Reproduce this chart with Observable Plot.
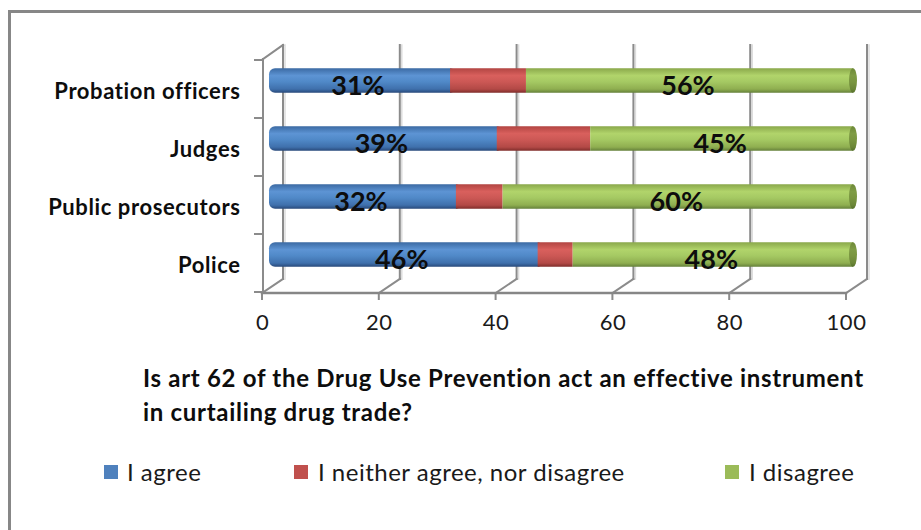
<!DOCTYPE html>
<html>
<head>
<meta charset="utf-8">
<script src="https://cdn.jsdelivr.net/npm/d3@7"></script>
<script src="https://cdn.jsdelivr.net/npm/@observablehq/plot@0.6"></script>
<style>
  html, body { margin: 0; padding: 0; background: #ffffff; }
  body { width: 921px; height: 530px; overflow: hidden; position: relative; font-family: Lato, "Open Sans", sans-serif; }
  #frame { position: absolute; left: 8px; top: 10px; width: 960px; height: 560px;
           border-left: 3px solid #878787; border-top: 3px solid #878787; }
  #chart { position: absolute; left: 0; top: 0; }
  #chart g[aria-label="y-axis tick label"] text { letter-spacing: 0.6px; }
  #chart g[aria-label="x-axis tick label"] text { letter-spacing: 0.5px; }
  #title { position: absolute; left: 143px; top: 361px; font-weight: bold; font-size: 24px;
           letter-spacing: 0.7px; line-height: 34px; color: #0d0d0d; white-space: nowrap; }
  .item { position: absolute; top: 458px; font-size: 24px; letter-spacing: 0.5px; line-height: 28px;
          color: #1a1a1a; white-space: nowrap; }
  .sw { position: absolute; width: 14px; height: 14px; top: 465px; }
</style>
</head>
<body>
<div id="frame"></div>
<div id="chart"></div>
<div id="title"></div>
<div id="legend"></div>
<script>
// Survey answers, percent of respondents per professional group
const groups = ["Probation officers", "Judges", "Public prosecutors", "Police"];
const agree = [31, 39, 32, 46];
const neither = [13, 16, 8, 6];
const disagree = [56, 45, 60, 48];
const responses = ["I agree", "I neither agree, nor disagree", "I disagree"];
const colors = ["#4f81bd", "#c0504d", "#9bbb59"];
const xTicks = [0, 20, 40, 60, 80, 100];
const titleLines = [
  "Is art 62 of the Drug Use Prevention act an effective instrument",
  "in curtailing drug trade?"
];

const rows = groups.map((group, i) => ({
  group,
  agree: agree[i],
  neither: neither[i],
  disagree: disagree[i],
  total: agree[i] + neither[i] + disagree[i]
}));

// offset of the back wall relative to the front plane (pseudo 3-D)
const DEPTH_X = 21, DEPTH_Y = -14;
// offset of the cylinders (half way into the depth)
const BAR_DX = 7, BAR_DY = -8.5;
const barInset = 16.75;

// grid, walls and floor edges of the 3-D plot area
function walls(index, scales, values, dims) {
  const x = scales.x, y = scales.y;
  const top = dims.marginTop, bottom = dims.height - dims.marginBottom;
  const x0 = x(0);
  const g = d3.create("svg:g").attr("fill", "none").attr("stroke-linecap", "square");
  const line = (x1, y1, x2, y2, stroke = "#8b8b8b", w = 2) =>
    g.append("line").attr("x1", x1).attr("y1", y1).attr("x2", x2).attr("y2", y2)
      .attr("stroke", stroke).attr("stroke-width", w);
  for (const t of xTicks) {
    const xb = x(t) + DEPTH_X;
    line(xb + 2, top + DEPTH_Y, xb + 2, bottom + DEPTH_Y, "#dcdcdc", 1.5);
    line(xb, top + DEPTH_Y, xb, bottom + DEPTH_Y);
    line(x(t), bottom, xb, bottom + DEPTH_Y);
    line(x(t), bottom, x(t), bottom + 6);
  }
  // left wall front edge and its top edge
  line(x0 + 1, top, x0 + 1, bottom);
  line(x0 + 1, top, x0 + DEPTH_X, top + DEPTH_Y);
  // category ticks
  const edges = groups.map(d => y(d)).concat([y(groups[groups.length - 1]) + y.bandwidth()]);
  for (const e of edges) line(x0 - 7, e, x0 + 1, e);
  // front axis line
  line(x0, bottom, x(100), bottom, "#868686", 2.5);
  return g.node();
}

const common = {y: "group", insetTop: barInset, insetBottom: barInset, dx: BAR_DX, dy: BAR_DY};

const plot = Plot.plot({
  width: 921,
  height: 350,
  marginLeft: 262,
  marginRight: 75,
  marginTop: 59,
  marginBottom: 57,
  style: {fontFamily: "Lato, 'Open Sans', sans-serif", background: "transparent", overflow: "visible"},
  x: {domain: [0, 100], axis: null},
  y: {domain: groups, padding: 0, axis: null},
  marks: [
    walls,
    // blue segment, rounded left end, tucked under the red one
    Plot.barX(rows, {...common, x1: () => 0, x2: "agree", insetRight: -6, rx: 6, fill: "url(#g-agree)"}),
    Plot.barX(rows, {...common, x1: "agree", x2: d => d.agree + d.neither, fill: "url(#g-neither)"}),
    Plot.barX(rows, {...common, x1: d => d.agree + d.neither, x2: "total", fill: "url(#g-disagree)"}),
    // end face of each cylinder
    Plot.barX(rows, {...common, x1: "total", x2: "total", insetLeft: -4, insetRight: -4, rx: 4, ry: 12.5, fill: "url(#g-cap)"}),
    // value labels
    Plot.text(rows, {x: d => d.agree / 2, y: "group", text: d => d.agree + "%", dx: 5, dy: -3,
      fontSize: 27, fontWeight: "bold", fill: "#0d0d0d"}),
    Plot.text(rows, {x: d => d.agree + d.neither + d.disagree / 2, y: "group", text: d => d.disagree + "%", dx: 5, dy: -3,
      fontSize: 27, fontWeight: "bold", fill: "#0d0d0d"}),
    // category axis
    Plot.axisY({tickSize: 0, tickPadding: 22, fontSize: 22, fontWeight: "bold", dy: 2, color: "#0d0d0d", label: null}),
    // value axis
    Plot.axisX({ticks: xTicks, tickSize: 0, tickPadding: 21, fontSize: 22, color: "#1a1a1a", label: null})
  ]
});

// cylinder shading
const defs = d3.select(plot).insert("defs", ":first-child");
const shades = {
  "g-agree": ["#3b6aa3", "#5d94d4", "#5089c8", "#3f70ac", "#28497a"],
  "g-neither": ["#b24542", "#d9605d", "#cc5855", "#b34946", "#7f2d2b"],
  "g-disagree": ["#8aa84b", "#b1d46b", "#a5c963", "#8fae50", "#64803a"],
  "g-cap": ["#6d8838", "#7f9c45", "#7a9640", "#6b8637", "#56702c"]
};
for (const [id, stops] of Object.entries(shades)) {
  const lg = defs.append("linearGradient").attr("id", id).attr("x1", 0).attr("y1", 0).attr("x2", 0).attr("y2", 1);
  [0, 0.3, 0.55, 0.85, 1].forEach((o, i) => lg.append("stop").attr("offset", o).attr("stop-color", stops[i]));
}

document.getElementById("chart").append(plot);

document.getElementById("title").innerHTML = titleLines.join("<br>");

const legendX = [[104, 127], [294, 318], [725, 749]];
const legend = document.getElementById("legend");
responses.forEach((r, i) => {
  const sw = document.createElement("div");
  sw.className = "sw";
  sw.style.left = legendX[i][0] + "px";
  sw.style.background = colors[i];
  legend.append(sw);
  const t = document.createElement("div");
  t.className = "item";
  t.style.left = legendX[i][1] + "px";
  t.textContent = r;
  legend.append(t);
});
</script>
</body>
</html>
